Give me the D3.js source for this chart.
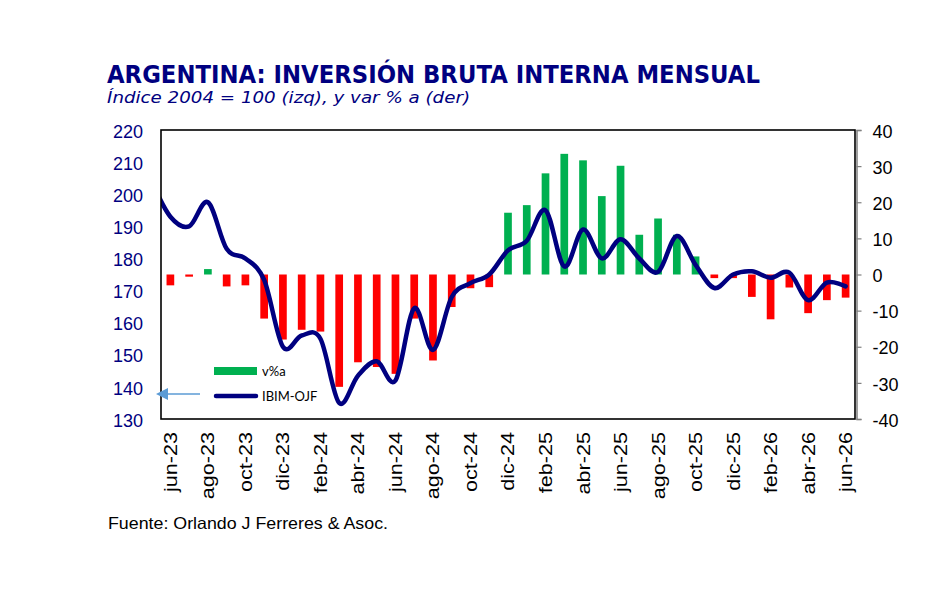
<!DOCTYPE html>
<html>
<head>
<meta charset="utf-8">
<script src="https://cdn.jsdelivr.net/npm/d3@7"></script>
<style>
  html, body { margin: 0; padding: 0; background: #fff; }
  svg { display: block; font-family: "Liberation Sans", Arial, sans-serif; }
</style>
</head>
<body>
<div id="chart"></div>
<script>
"use strict";
// Inversión bruta interna mensual: barras v%a (eje der) + línea IBIM-OJF suavizada (eje izq)

const months = ["jun-23","jul-23","ago-23","sep-23","oct-23","nov-23","dic-23","ene-24","feb-24","mar-24","abr-24","may-24",
  "jun-24","jul-24","ago-24","sep-24","oct-24","nov-24","dic-24","ene-25","feb-25","mar-25","abr-25","may-25",
  "jun-25","jul-25","ago-25","sep-25","oct-25","nov-25","dic-25","ene-26","feb-26","mar-26","abr-26","may-26","jun-26"];
const xTicks = ["jun-23","ago-23","oct-23","dic-23","feb-24","abr-24","jun-24","ago-24","oct-24","dic-24",
  "feb-25","abr-25","jun-25","ago-25","oct-25","dic-25","feb-26","abr-26","jun-26"];
// variación % anual (eje derecho)
const varA = [-3.0,-0.6,1.5,-3.3,-3.0,-12.2,-18.0,-15.3,-15.8,-31.1,-24.3,-25.6,
  -27.5,-12.2,-23.8,-9.0,-3.8,-3.5,17.1,19.2,28.0,33.4,31.6,21.7,
  30.1,11.0,15.5,11.0,5.0,-1.0,-1.0,-6.2,-12.4,-3.6,-10.7,-7.1,-6.4];
// índice IBIM-OJF (eje izquierdo); arranca en may-23, que queda fuera del área (recortado)
const lineMonths = ["may-23"].concat(months);
const ibim = [204.0,193.0,190.0,197.5,183.0,180.0,173.3,152.5,156.0,155.0,135.0,143.5,148.0,
  142.0,164.5,151.5,168.0,172.3,175.0,182.5,185.5,195.0,177.5,189.0,180.0,
  186.0,180.0,175.8,187.0,178.0,170.8,175.0,176.0,174.0,175.6,167.0,172.5,171.3];
const leftTicks = [130,140,150,160,170,180,190,200,210,220];
const rightTicks = [-40,-30,-20,-10,0,10,20,30,40];

const W = 951, H = 593;
const P = { l:161, r:855, t:130, b:419 };
const NAVY = "#000080";

const svg = d3.select("#chart").append("svg").attr("width", W).attr("height", H);

// estira horizontalmente los textos (la imagen original viene algo ensanchada)
function stretch(sel, k){
  sel.each(function(){ const w = this.getComputedTextLength(); d3.select(this).attr("textLength", w*k).attr("lengthAdjust","spacingAndGlyphs"); });
}

// títulos
svg.append("text").attr("x",107).attr("y",83).attr("fill",NAVY).attr("font-family","'DejaVu Sans', Verdana, sans-serif")
  .attr("font-weight",700).attr("font-size",24).attr("textLength",653).attr("lengthAdjust","spacingAndGlyphs")
  .text("ARGENTINA: INVERSIÓN BRUTA INTERNA MENSUAL");
svg.append("text").attr("x",107).attr("y",103).attr("fill",NAVY).attr("font-family","'DejaVu Sans', Verdana, sans-serif")
  .attr("font-style","italic").attr("font-size",16.5).attr("textLength",363).attr("lengthAdjust","spacingAndGlyphs")
  .text("Índice 2004 = 100 (izq), y var % a (der)");

// escalas
const x = d3.scaleBand().domain(months).range([P.l, P.r]).paddingInner(0.59).paddingOuter(0.295);
const step = x.step();
const xl = d3.scalePoint().domain(lineMonths).range([x(months[0]) + x.bandwidth()/2 - step, x(months[months.length-1]) + x.bandwidth()/2]);
const yL = d3.scaleLinear().domain([130,220]).range([P.b, P.t]);
const yR = d3.scaleLinear().domain([-40,40]).range([P.b, P.t]);

svg.append("defs").append("clipPath").attr("id","plotclip")
  .append("rect").attr("x",P.l).attr("y",P.t).attr("width",P.r-P.l).attr("height",P.b-P.t);

// barras
svg.append("g").selectAll("rect").data(months).join("rect")
  .attr("x", (d)=>x(d)).attr("width", x.bandwidth())
  .attr("y", (d,i)=>yR(Math.max(0,varA[i]))).attr("height", (d,i)=>Math.abs(yR(varA[i])-yR(0)))
  .attr("fill", (d,i)=>varA[i] >= 0 ? "#00b050" : "#ff0000");

// línea suavizada
const line = d3.line().x((d,i)=>xl(lineMonths[i])).y((d)=>yL(d)).curve(d3.curveCatmullRom.alpha(0));
svg.append("path").attr("clip-path","url(#plotclip)").attr("d", line(ibim))
  .attr("fill","none").attr("stroke",NAVY).attr("stroke-width",4.5).attr("stroke-linecap","round").attr("stroke-linejoin","round");

// marco del área
svg.append("rect").attr("x",P.l).attr("y",P.t).attr("width",P.r-P.l).attr("height",P.b-P.t)
  .attr("fill","none").attr("stroke","#000").attr("stroke-width",1.6);

// eje izquierdo
const gL = svg.append("g").attr("transform",`translate(${P.l},0)`)
  .call(d3.axisLeft(yL).tickValues(leftTicks).tickSize(0).tickPadding(18));
gL.select(".domain").remove();
gL.selectAll("text").attr("font-size",18).attr("fill",NAVY).attr("font-family","'Liberation Sans', Arial, sans-serif").attr("dy","0.4em");

// eje derecho (guion normal en los negativos, como el original)
const gR = svg.append("g").attr("transform",`translate(${P.r+1.5},0)`)
  .call(d3.axisRight(yR).tickValues(rightTicks).tickSize(5).tickPadding(11).tickFormat((d)=>String(d)));
gR.select(".domain").attr("stroke","#808080").attr("stroke-width",1.5);
gR.selectAll(".tick line").attr("stroke","#808080").attr("stroke-width",1.2);
gR.selectAll("text").attr("font-size",18).attr("fill","#000").attr("font-family","'Liberation Sans', Arial, sans-serif").attr("dy","0.4em");

// eje x (etiquetas verticales)
const gX = svg.append("g").attr("transform",`translate(0,${P.b})`)
  .call(d3.axisBottom(x).tickValues(xTicks).tickSize(0));
gX.select(".domain").remove();
gX.selectAll("text").attr("font-size",18).attr("fill","#000").attr("font-family","'Liberation Sans', Arial, sans-serif")
  .attr("text-anchor","end").attr("transform","rotate(-90)").attr("x",-13).attr("y",0).attr("dy","0.36em");
stretch(gX.selectAll("text"), 1.2);

// leyenda
const lg = svg.append("g").attr("font-family","Lato, 'Open Sans', sans-serif").attr("font-size",13);
lg.append("rect").attr("x",214).attr("y",367).attr("width",43).attr("height",8).attr("fill","#00b050");
lg.append("text").attr("x",262).attr("y",371).attr("dy","0.35em").text("v%a");
lg.append("line").attr("x1",216).attr("x2",256).attr("y1",396).attr("y2",396).attr("stroke",NAVY).attr("stroke-width",4.5).attr("stroke-linecap","round");
lg.append("text").attr("x",262).attr("y",396).attr("dy","0.35em").text("IBIM-OJF");

// flecha hacia el eje izquierdo
svg.append("line").attr("x1",200).attr("x2",166).attr("y1",394).attr("y2",394).attr("stroke","#5b9bd5").attr("stroke-width",1.5);
svg.append("path").attr("d","M156,394 L168,388 L168,400 Z").attr("fill","#5b9bd5");

// fuente
svg.append("text").attr("x",108).attr("y",529).attr("font-size",16.5).attr("fill","#000")
  .attr("font-family","'Liberation Sans', Arial, sans-serif").attr("textLength",280).attr("lengthAdjust","spacingAndGlyphs")
  .text("Fuente: Orlando J Ferreres & Asoc.");
</script>
</body>
</html>
